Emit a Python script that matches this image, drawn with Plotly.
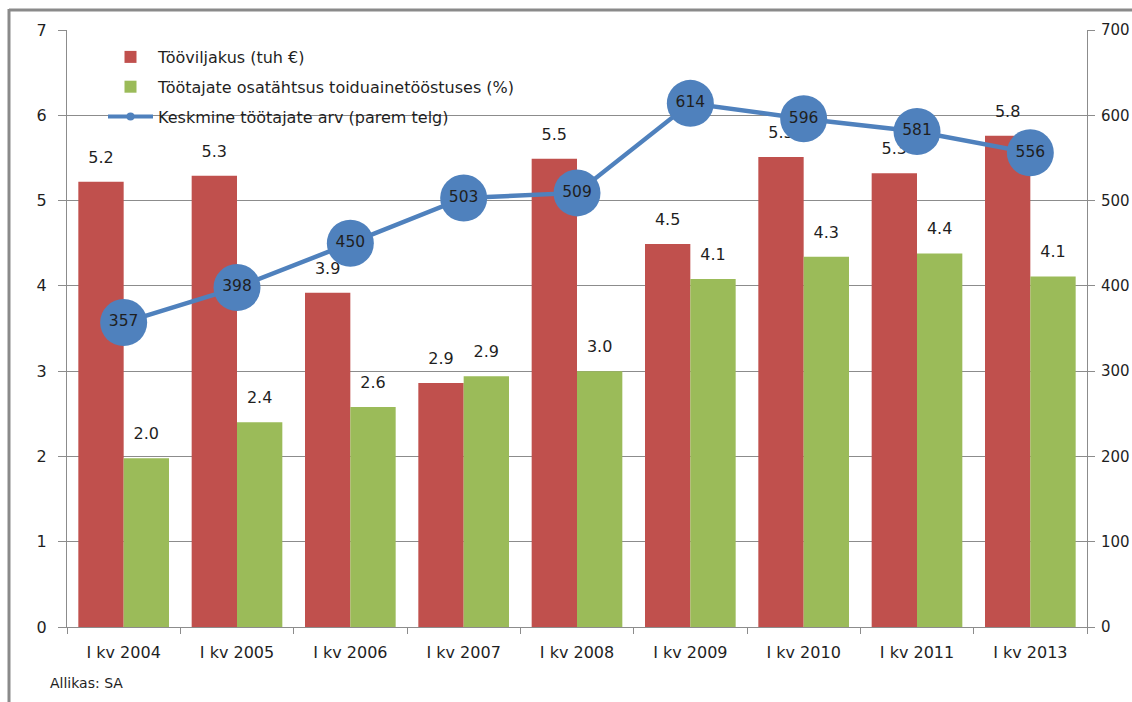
import plotly.graph_objects as go

categories = ["I kv 2004", "I kv 2005", "I kv 2006", "I kv 2007", "I kv 2008",
              "I kv 2009", "I kv 2010", "I kv 2011", "I kv 2013"]
productivity = [5.22, 5.29, 3.92, 2.86, 5.49, 4.49, 5.51, 5.32, 5.76]
share = [1.98, 2.40, 2.58, 2.94, 3.00, 4.08, 4.34, 4.38, 4.11]
employees = [357, 398, 450, 503, 509, 614, 596, 581, 556]
left_ticks = [0, 1, 2, 3, 4, 5, 6, 7]
right_ticks = [0, 100, 200, 300, 400, 500, 600, 700]

name_prod = "Tööviljakus (tuh €)"
name_share = "Töötajate osatähtsus toiduainetööstuses (%)"
name_emp = "Keskmine töötajate arv (parem telg)"
source = "Allikas: SA"

RED = "#C0504D"
GREEN = "#9BBB59"
BLUE = "#4F81BD"
GRID = "#8C8C8C"
TXT = "#1f1f1f"
FONT = "'DejaVu Sans', sans-serif"

idx = list(range(len(categories)))
bw = 0.4
label_pad = 0.27

fig = go.Figure()
fig.add_trace(go.Bar(x=idx, y=productivity, width=bw, offset=-bw, name=name_prod,
                     marker=dict(color=RED, line_width=0), legendgroup="a"))
fig.add_trace(go.Bar(x=idx, y=share, width=bw, offset=0, name=name_share,
                     marker=dict(color=GREEN, line_width=0), legendgroup="b"))
fig.add_trace(go.Scatter(x=[i - bw / 2 for i in idx], y=[v + label_pad for v in productivity],
                         mode="text", text=[f"{v:.1f}" for v in productivity],
                         textposition="middle center", textfont=dict(size=16, color=TXT),
                         showlegend=False, hoverinfo="skip"))
fig.add_trace(go.Scatter(x=[i + bw / 2 for i in idx], y=[v + label_pad for v in share],
                         mode="text", text=[f"{v:.1f}" for v in share],
                         textposition="middle center", textfont=dict(size=16, color=TXT),
                         showlegend=False, hoverinfo="skip"))
fig.add_trace(go.Scatter(x=idx, y=employees, yaxis="y2", mode="lines+markers+text",
                         text=[str(v) for v in employees], textposition="middle center",
                         textfont=dict(size=15.5, color=TXT),
                         line=dict(color=BLUE, width=4.5),
                         marker=dict(color=BLUE, size=47, line=dict(width=0)),
                         showlegend=False))
fig.add_trace(go.Scatter(x=[None], y=[None], yaxis="y2", mode="lines+markers", name=name_emp,
                         line=dict(color=BLUE, width=4), marker=dict(color=BLUE, size=8),
                         legendgroup="c"))

pw = 1020.0
ph = 597.0
fig.update_layout(
    width=1132, height=702,
    margin=dict(l=67, r=45, t=30, b=75, autoexpand=False),
    paper_bgcolor="white", plot_bgcolor="white",
    font=dict(family=FONT, size=16, color=TXT),
    barmode="overlay",
    showlegend=True,
    legend=dict(x=(103 - 67) / pw, y=(627 - 40) / ph, xanchor="left", yanchor="top",
                bgcolor="rgba(0,0,0,0)", font=dict(size=16, color=TXT),
                traceorder="grouped", tracegroupgap=6, itemwidth=45),
    xaxis=dict(range=[-0.5, len(categories) - 0.5], tickmode="array", tickvals=idx,
               ticktext=categories, ticks="", showgrid=False, zeroline=False,
               showline=True, linecolor=GRID, linewidth=1, ticklabelstandoff=11,
               tickfont=dict(size=16, color=TXT), automargin=False,
               minor=dict(tickmode="linear", tick0=-0.5, dtick=1, ticks="outside",
                          ticklen=6, tickcolor=GRID, showgrid=False)),
    yaxis=dict(range=[0, 7], tickmode="array", tickvals=left_ticks, ticks="outside",
               ticklen=8, tickcolor=GRID, showgrid=True, gridcolor=GRID, gridwidth=1,
               zeroline=False, showline=True, linecolor=GRID, linewidth=1,
               tickfont=dict(size=16, color=TXT), ticklabelstandoff=8, automargin=False),
    yaxis2=dict(range=[0, 700], tickmode="array", tickvals=right_ticks, overlaying="y",
                side="right", ticks="outside", ticklen=7, tickcolor=GRID, showgrid=False,
                zeroline=False, showline=True, linecolor=GRID, linewidth=1,
                tickfont=dict(size=15, color=TXT), ticklabelstandoff=3, automargin=False),
    shapes=[
        dict(type="line", xref="paper", yref="paper",
             x0=(9 - 67) / pw, x1=(9 - 67) / pw, y0=(627 - 720) / ph, y1=(627 - 9) / ph,
             line=dict(color="#8a8a8a", width=3), layer="below"),
        dict(type="line", xref="paper", yref="paper",
             x0=(9 - 67) / pw, x1=(1200 - 67) / pw, y0=(627 - 10) / ph, y1=(627 - 10) / ph,
             line=dict(color="#8a8a8a", width=3), layer="below"),
    ],
    annotations=[dict(text=source, xref="paper", yref="paper",
                      x=(48 - 67) / pw, y=(627 - 683) / ph, xanchor="left", yanchor="middle",
                      showarrow=False, font=dict(size=14, color=TXT))],
)

fig.write_html("out.html", config={"displayModeBar": False},
               post_script="document.body.style.margin='0';document.body.style.padding='0';")
